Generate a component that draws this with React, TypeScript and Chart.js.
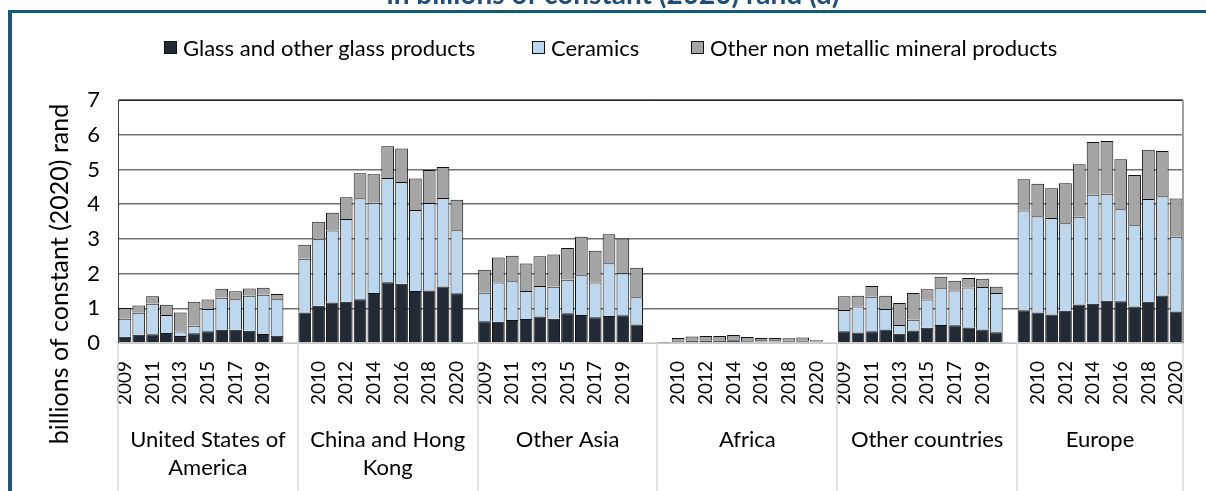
import React, { useEffect, useRef } from 'react';
import { Chart, registerables } from 'chart.js';

Chart.register(...registerables);

const FONT = "Lato, 'Open Sans', sans-serif";

const years = ['2009', '2010', '2011', '2012', '2013', '2014', '2015', '2016', '2017', '2018', '2019', '2020'];
const groupNames = ['United States of America', 'China and Hong Kong', 'Other Asia', 'Africa', 'Other countries', 'Europe'];
const groupLabelLines = [['United States of', 'America'], ['China and Hong', 'Kong'], ['Other Asia'], ['Africa'], ['Other countries'], ['Europe']];
const seriesNames = ['Glass and other glass products', 'Ceramics', 'Other non metallic mineral products'];
const seriesColors = ['#222A35', '#BDD7EE', '#A5A5A5'];
const yTicks = [0, 1, 2, 3, 4, 5, 6, 7];

// billions of constant (2020) rand, 2009..2020
const usaGlass = [0.18, 0.24, 0.25, 0.29, 0.2, 0.28, 0.34, 0.38, 0.38, 0.35, 0.26, 0.21];
const usaCeramics = [0.52, 0.63, 0.88, 0.52, 0.13, 0.22, 0.64, 0.92, 0.88, 1.01, 1.13, 1.05];
const usaOther = [0.31, 0.21, 0.22, 0.29, 0.55, 0.69, 0.27, 0.26, 0.23, 0.21, 0.2, 0.15];

const chinaGlass = [0.88, 1.07, 1.17, 1.19, 1.26, 1.44, 1.75, 1.71, 1.5, 1.51, 1.63, 1.43];
const chinaCeramics = [1.55, 1.92, 2.07, 2.38, 2.91, 2.6, 3.0, 2.93, 2.33, 2.52, 2.55, 1.82];
const chinaOther = [0.4, 0.5, 0.51, 0.63, 0.72, 0.82, 0.92, 0.96, 0.91, 0.95, 0.89, 0.88];

const asiaGlass = [0.63, 0.61, 0.66, 0.69, 0.76, 0.7, 0.86, 0.81, 0.74, 0.78, 0.8, 0.53];
const asiaCeramics = [0.82, 1.13, 1.12, 0.81, 0.88, 0.92, 0.96, 1.14, 1.0, 1.52, 1.21, 0.79];
const asiaOther = [0.66, 0.72, 0.73, 0.79, 0.86, 0.93, 0.92, 1.11, 0.92, 0.83, 1.0, 0.85];

const africaGlass = [0.005, 0.05, 0.07, 0.07, 0.07, 0.08, 0.05, 0.04, 0.04, 0.05, 0.05, 0.04];
const africaCeramics = [0.002, 0.03, 0.02, 0.02, 0.02, 0.03, 0.04, 0.04, 0.04, 0.02, 0.03, 0.01];
const africaOther = [0.003, 0.065, 0.1, 0.11, 0.11, 0.12, 0.08, 0.065, 0.065, 0.065, 0.08, 0.04];

const otherGlass = [0.34, 0.3, 0.34, 0.39, 0.27, 0.36, 0.44, 0.52, 0.51, 0.45, 0.39, 0.31];
const otherCeramics = [0.61, 0.75, 0.99, 0.59, 0.25, 0.31, 0.81, 1.06, 1.0, 1.15, 1.22, 1.13];
const otherOther = [0.4, 0.31, 0.31, 0.38, 0.63, 0.77, 0.3, 0.33, 0.28, 0.27, 0.24, 0.18];

const europeGlass = [0.94, 0.88, 0.82, 0.93, 1.11, 1.13, 1.22, 1.2, 1.05, 1.19, 1.37, 0.91];
const europeCeramics = [2.88, 2.77, 2.78, 2.52, 2.53, 3.14, 3.08, 2.65, 2.34, 2.96, 2.86, 2.15];
const europeOther = [0.9, 0.94, 0.86, 1.15, 1.51, 1.52, 1.52, 1.44, 1.45, 1.42, 1.3, 1.1];

const glassByGroup = [usaGlass, chinaGlass, asiaGlass, africaGlass, otherGlass, europeGlass];
const ceramicsByGroup = [usaCeramics, chinaCeramics, asiaCeramics, africaCeramics, otherCeramics, europeCeramics];
const otherByGroup = [usaOther, chinaOther, asiaOther, africaOther, otherOther, europeOther];

// Flat category list: each group's years followed by a blank spacer (except last group)
const labels: string[] = [];
const groupStarts: number[] = [];
groupNames.forEach((_, g) => {
  groupStarts.push(labels.length);
  years.forEach((y) => labels.push(y));
  if (g < groupNames.length - 1) labels.push('');
});
const flatten = (arrs: number[][]) => {
  const out: (number | null)[] = [];
  arrs.forEach((a, g) => {
    a.forEach((v) => out.push(v));
    if (g < arrs.length - 1) out.push(null);
  });
  return out;
};

const overlayPlugin = {
  id: 'overlay',
  afterDraw(chart: any) {
    const { ctx, chartArea: a } = chart;
    const n = labels.length;
    const slot = (a.right - a.left) / n;
    ctx.save();
    // plot area top & right border
    ctx.strokeStyle = '#262626';
    ctx.lineWidth = 1;
    ctx.beginPath();
    ctx.moveTo(a.left, a.top + 0.5);
    ctx.lineTo(a.right, a.top + 0.5);
    ctx.stroke();
    ctx.strokeStyle = '#a0a0a0';
    ctx.lineWidth = 2;
    ctx.beginPath();
    ctx.moveTo(a.right, a.top);
    ctx.lineTo(a.right, a.bottom);
    ctx.stroke();
    // group separators
    ctx.strokeStyle = '#d9d9d9';
    ctx.lineWidth = 1.5;
    const bounds = [...groupStarts, n];
    bounds.forEach((b) => {
      const x = Math.round(a.left + b * slot);
      ctx.beginPath();
      ctx.moveTo(x, a.bottom);
      ctx.lineTo(x, 491);
      ctx.stroke();
    });
    // group labels
    ctx.fillStyle = '#000';
    ctx.font = `22px ${FONT}`;
    ctx.textAlign = 'center';
    ctx.textBaseline = 'middle';
    groupLabelLines.forEach((lines, g) => {
      const cx = a.left + ((bounds[g] + bounds[g + 1]) / 2) * slot;
      lines.forEach((line, i) => ctx.fillText(line, cx, 440 + i * 28));
    });
    // y axis title
    ctx.save();
    ctx.translate(60, 274);
    ctx.rotate(-Math.PI / 2);
    ctx.font = `25px ${FONT}`;
    ctx.fillText('billions of constant (2020) rand', 0, 0);
    ctx.restore();
    // cut-off header title
    ctx.font = `bold 28px ${FONT}`;
    ctx.fillStyle = '#1F4E79';
    ctx.textBaseline = 'alphabetic';
    ctx.fillText('in billions of constant (2020) rand (d)', 613, 4);
    ctx.restore();
  },
};

export default function App() {
  const ref = useRef<HTMLCanvasElement | null>(null);
  useEffect(() => {
    if (!ref.current) return;
    const chart = new Chart(ref.current, {
      type: 'bar',
      data: {
        labels,
        datasets: [glassByGroup, ceramicsByGroup, otherByGroup].map((d, i) => ({
          label: seriesNames[i],
          data: flatten(d),
          backgroundColor: seriesColors[i],
          borderColor: '#111111',
          borderWidth: 1,
          categoryPercentage: 1,
          barPercentage: 0.92,
        })),
      },
      options: {
        animation: false,
        responsive: false,
        devicePixelRatio: 1,
        layout: { padding: { left: 0, top: 100, right: 23, bottom: 0 } },
        plugins: { legend: { display: false }, tooltip: { enabled: false } },
        scales: {
          x: {
            stacked: true,
            grid: { display: false, drawTicks: false },
            border: { color: '#d9d9d9', width: 1.5 },
            ticks: {
              autoSkip: false,
              minRotation: 90,
              maxRotation: 90,
              padding: 18,
              color: '#000',
              font: { family: FONT, size: 19 },
              callback: (_v: any, i: number) => (i % 2 === 0 ? labels[i] : ''),
            },
            afterFit: (s: any) => {
              s.height = 148;
              s.paddingLeft = 0;
              s.paddingRight = 0;
            },
          },
          y: {
            stacked: true,
            min: 0,
            max: 7,
            afterBuildTicks: (s: any) => {
              s.ticks = yTicks.map((v) => ({ value: v }));
            },
            grid: { color: '#707070', lineWidth: 1.5, drawTicks: false },
            border: { color: '#404040', width: 1 },
            ticks: {
              padding: 18,
              color: '#000',
              font: { family: FONT, size: 22 },
            },
            afterFit: (s: any) => {
              s.width = 118;
              s.paddingTop = 0;
              s.paddingBottom = 0;
            },
          },
        },
      },
      plugins: [overlayPlugin],
    });
    return () => chart.destroy();
  }, []);

  const legendItems = [
    { left: 164, text: seriesNames[0], color: seriesColors[0] },
    { left: 532, text: seriesNames[1], color: seriesColors[1] },
    { left: 691, text: seriesNames[2], color: seriesColors[2] },
  ];

  return (
    <div style={{ position: 'fixed', left: 0, top: 0, width: 1206, height: 491, background: '#fff', overflow: 'hidden' }}>
      <canvas ref={ref} width={1206} height={491} style={{ position: 'absolute', left: 0, top: 0 }} />
      <div style={{ position: 'absolute', left: 8, top: 10, width: 1198, height: 3, background: '#1F5673' }} />
      <div style={{ position: 'absolute', left: 8, top: 10, width: 4, height: 481, background: '#1F5673' }} />
      {legendItems.map((it, i) => (
        <div
          key={i}
          style={{
            position: 'absolute',
            left: it.left,
            top: 33,
            height: 28,
            display: 'flex',
            alignItems: 'center',
            fontFamily: FONT,
            fontSize: 22,
            color: '#000',
            whiteSpace: 'nowrap',
          }}
        >
          <span
            style={{
              display: 'inline-block',
              width: 11,
              height: 11,
              background: it.color,
              border: '1px solid #111',
              marginRight: 6,
            }}
          />
          {it.text}
        </div>
      ))}
    </div>
  );
}
